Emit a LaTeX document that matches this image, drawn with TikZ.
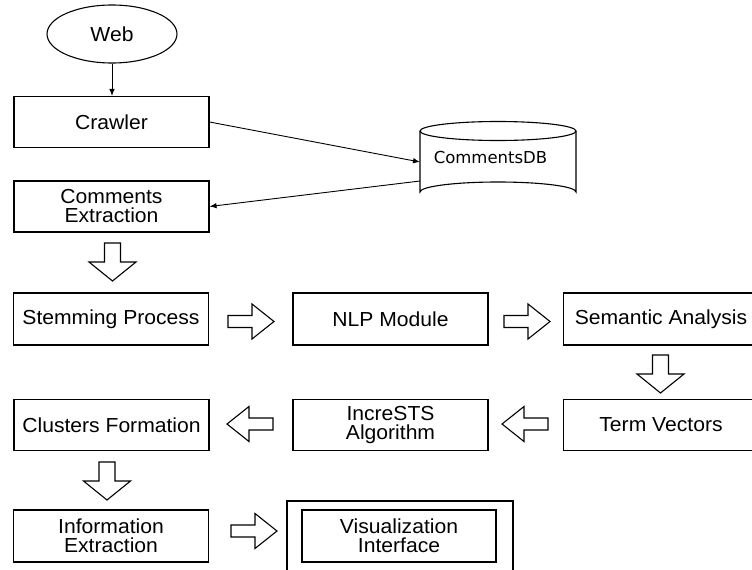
\documentclass[tikz,border=0pt]{standalone}
\usepackage{fontspec}
\setmainfont{Liberation Sans}[FakeStretch=1.04]
\newfontfamily\dbfont{DejaVu Sans}
\usetikzlibrary{arrows.meta,shapes.geometric}
\begin{document}
\begin{tikzpicture}[x=1pt,y=-1pt,
  lw/.style={line width=1.1pt},
  box/.style={draw,lw,minimum width=195pt,minimum height=51pt,align=center,inner sep=0pt,
    font=\fontsize{20.3}{19}\selectfont},
  conn/.style={line width=0.9pt,-{Latex[length=7pt,width=5.5pt]}},
  harrow/.pic={\draw[lw] (0,-6)--(24,-6)--(24,-17.5)--(46,0)--(24,17.5)--(24,6)--(0,6)--cycle;},
  varrow/.pic={\draw[lw] (-8,0)--(-8,19)--(-23.5,19)--(0,38)--(23.5,19)--(8,19)--(8,0)--cycle;}
]
\useasboundingbox (0,0) rectangle (752,570);
\clip (0,0) rectangle (752,570);
\fill[white] (0,0) rectangle (752,570);

% Web
\node[draw,lw,ellipse,minimum width=130pt,minimum height=58pt,inner sep=0pt,
  font=\fontsize{20.3}{19}\selectfont] (web) at (112,34) {Web};

% boxes
\node[box] (crawler) at (111.5,122) {Crawler};
\node[box] (cex) at (111.5,206.5) {Comments\\Extraction};
\node[box,minimum height=52pt] (stem) at (111,319) {Stemming Process};
\node[box,minimum height=52pt] (nlp) at (390.5,319) {NLP Module};
\node[box,minimum height=52pt] (sem) at (661,319) {Semantic Analysis};
\node[box] (clu) at (111.5,425) {Clusters Formation};
\node[box] (inc) at (390.5,425) {IncreSTS\\Algorithm};
\node[box] (term) at (661,425) {Term Vectors};
\node[box,minimum height=52pt] (info) at (111,536) {Information\\Extraction};
\node[box,minimum width=194pt,minimum height=52pt] (vis) at (399,536) {Visualization\\Interface};
\node[draw,lw,minimum width=226pt,minimum height=74pt,inner sep=0pt] (visout) at (400,538) {};

% database cylinder
\draw[lw,fill=white] (420,131) -- (420,192) arc[start angle=180,end angle=360,x radius=78,y radius=10] -- (576,131);
\draw[lw] (498,131) ellipse[x radius=78,y radius=9.5];
\node[font=\dbfont\fontsize{16.5}{18}\selectfont,inner sep=0pt] (db) at (490.5,157) {CommentsDB};
\coordinate (dbin) at (420,162);
\coordinate (dbout) at (420,181);

% connectors
\draw[conn] (web.south) -- (web.south |- crawler.north);
\draw[conn] (crawler.east) -- (dbin);
\draw[conn] (dbout) -- (cex.east);

% hollow arrows
\pic at (112.5,243) {varrow};
\pic at (228,321.5) {harrow};
\pic at (504,321.5) {harrow};
\pic at (660.5,355) {varrow};
\pic[xscale=-1] at (273,424) {harrow};
\pic[xscale=-1] at (548,424) {harrow};
\pic at (107,462) {varrow};
\pic at (231,531) {harrow};
\end{tikzpicture}
\end{document}
